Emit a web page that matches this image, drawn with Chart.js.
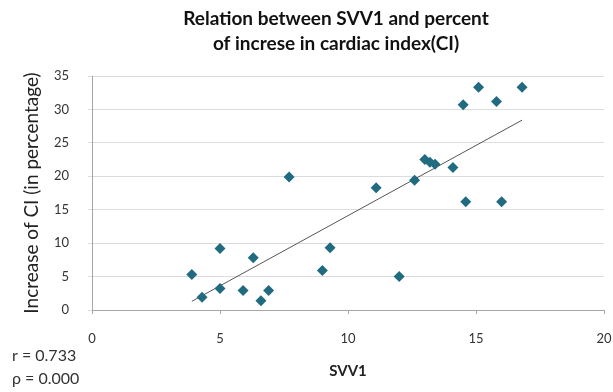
<!DOCTYPE html>
<html>
<head>
<meta charset="utf-8">
<script src="https://cdn.jsdelivr.net/npm/chart.js@4"></script>
<style>
  html, body { margin: 0; padding: 0; background: #fff; }
  #wrap { width: 613px; height: 392px; }
</style>
</head>
<body>
<div id="wrap"><canvas id="scatterChart"></canvas></div>
<script>
// values
const svv1 = [3.9, 4.3, 5.0, 5.0, 5.9, 6.3, 6.6, 6.9, 7.7, 9.0, 9.3, 11.1, 12.0, 12.6, 13.0, 13.2, 13.4, 14.1, 14.5, 14.6, 15.1, 15.8, 16.0, 16.8];
const ciIncrease = [5.3, 1.9, 9.2, 3.2, 2.9, 7.8, 1.4, 2.9, 19.9, 5.9, 9.3, 18.3, 5.0, 19.4, 22.5, 22.1, 21.8, 21.3, 30.7, 16.2, 33.3, 31.2, 16.2, 33.3];
const trendX = [3.9, 16.8]; // ends of the linear trend line
const trendY = [1.3, 28.4];
const titleLines = ['Relation between SVV1 and percent', 'of increse in cardiac index(CI)'];
const statLines = ['r = 0.733', 'ρ = 0.000'];

const fontName = 'Lato, "Open Sans", sans-serif';

// chart title (a bit right of the canvas middle, as in the original) and the r / rho note
const chartText = {
    id: 'chartText',
    afterDraw(chart) {
        const c = chart.ctx;
        c.save();
        c.textBaseline = 'middle';
        c.textAlign = 'center';
        c.fillStyle = '#111';
        c.font = 'bold 19px ' + fontName;
        c.fillText(titleLines[0], 336, 19);
        c.fillText(titleLines[1], 336, 44);
        c.textAlign = 'left';
        c.fillStyle = '#333';
        c.font = '16px ' + fontName;
        c.fillText(statLines[0], 12, 356);
        c.fillText(statLines[1], 12, 379);
        c.restore();
    }
};

const ctx = document.getElementById('scatterChart').getContext('2d');
const scatterChart = new Chart(ctx, {
    type: 'scatter',
    data: {
        datasets: [
            {
                label: 'SVV1 vs CI',
                data: svv1.map((x, i) => ({ x: x, y: ciIncrease[i] })),
                backgroundColor: '#216b80',
                borderColor: '#216b80',
                pointStyle: 'rectRot',
                pointRadius: 5.5,
                borderWidth: 0,
                order: 1
            },
            {
                type: 'line',
                label: 'Linear',
                data: trendX.map((x, i) => ({ x: x, y: trendY[i] })),
                borderColor: '#555',
                borderWidth: 1,
                pointRadius: 0,
                fill: false,
                order: 2
            }
        ]
    },
    options: {
        responsive: true,
        maintainAspectRatio: false,
        animation: false,
        layout: {
            padding: { left: 14, right: 0, top: 76, bottom: 12 }
        },
        scales: {
            x: {
                type: 'linear',
                min: 0,
                max: 20,
                afterFit(scale) {
                    scale.height = 70; // room for tick labels and axis title
                    scale.paddingRight = 9; // let the "20" run to the edge
                },
                ticks: { stepSize: 5, color: '#333', padding: 17, font: { family: fontName, size: 13 } },
                grid: { drawOnChartArea: false, tickLength: 4, color: '#a6a6a6' },
                border: { color: '#a6a6a6' },
                title: {
                    display: true,
                    text: 'SVV1',
                    color: '#222',
                    padding: { top: 0, bottom: 0 },
                    font: { family: fontName, size: 15, weight: 'bold' }
                }
            },
            y: {
                min: 0,
                max: 35,
                afterFit(scale) {
                    scale.width = 78;
                },
                ticks: { stepSize: 5, color: '#333', padding: 19, font: { family: fontName, size: 13 } },
                grid: { color: '#dcdcdc', tickLength: 4 },
                border: { color: '#a6a6a6' },
                title: {
                    display: true,
                    text: 'Increase of CI (in percentage)',
                    color: '#222',
                    padding: { top: 6, bottom: 0 },
                    font: { family: fontName, size: 19 }
                }
            }
        },
        plugins: {
            legend: { display: false },
            tooltip: { enabled: false },
            title: { display: false }
        }
    },
    plugins: [chartText]
});
</script>
</body>
</html>
